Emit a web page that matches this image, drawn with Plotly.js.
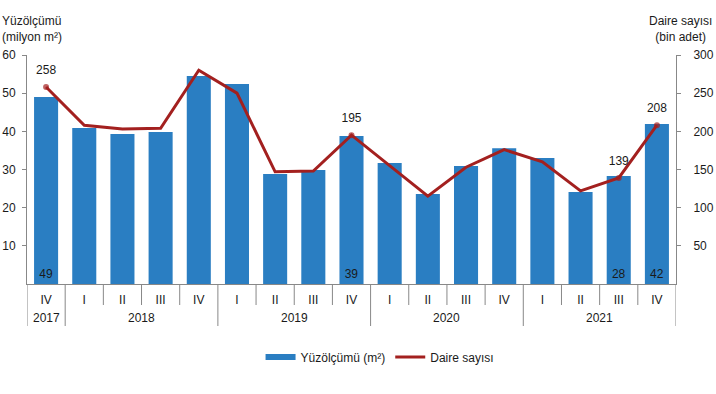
<!DOCTYPE html>
<html><head><meta charset="utf-8">
<script src="https://cdn.plot.ly/plotly-3.0.1.min.js"></script>
<style>html,body{margin:0;padding:0;background:#fff}#chart{width:716px;height:394px}</style>
</head><body><div id="chart"></div>
<script>
const years = ["2017","2018","2018","2018","2018","2019","2019","2019","2019","2020","2020","2020","2020","2021","2021","2021","2021"];
const quarters = ["IV","I","II","III","IV","I","II","III","IV","I","II","III","IV","I","II","III","IV"];
const area = [49,40.9,39.3,39.8,54.5,52.4,28.8,29.9,38.8,31.7,23.6,30.9,35.6,33.0,24.1,28.3,41.9];
const areaLabels = ["49","","","","","","","","39","","","","","","","28","42"];
const dwellings = [258,208,203,204,280,250,147,148,195,155,115,153,176,160,122,139,208];
const dwellingLabels = ["258","","","","","","","","195","","","","","","","139","208"];

const font = {family:"Liberation Sans, Arial, sans-serif", size:12, color:"#1a1a1a"};
const keys = years.map((y, i) => y + " " + quarters[i]);
const barColor = "#2A7EC2", lineColor = "#A3201F", axisColor = "#888";

// plot area in pixels: left 27, right 676, top 55, bottom 284
const plotH = 229;
const py = (px) => (284 - px) / plotH;

// year groups
const groups = [];
years.forEach((y, i) => {
  if (!groups.length || groups[groups.length - 1].year !== y) groups.push({year: y, start: i, end: i});
  else groups[groups.length - 1].end = i;
});

const shapes = [];
const isGroupStart = new Set(groups.map(g => g.start));
for (let b = 0; b <= keys.length; b++) {
  const major = b === 0 || b === keys.length || isGroupStart.has(b);
  shapes.push({type:"line", xref:"x", yref:"paper", x0:b - 0.5, x1:b - 0.5,
               y0:0, y1:major ? py(326) : py(305), line:{color:axisColor, width:1}});
}

const annotations = groups.map(g => ({
  xref:"x", yref:"paper", x:(g.start + g.end) / 2, y:py(318), yanchor:"middle", xanchor:"center",
  text:g.year, showarrow:false, font:font
}));
annotations.push(
  {xref:"paper", yref:"paper", x:-27/649, y:py(12), xanchor:"left", yanchor:"top", align:"left",
   text:"Yüzölçümü<br>(milyon m²)", showarrow:false, font:font},
  {xref:"paper", yref:"paper", x:(714-27)/649, y:py(12), xanchor:"right", yanchor:"top", align:"center",
   text:"Daire sayısı<br>(bin adet)", showarrow:false, font:font}
);

const traces = [
  {type:"bar", x:keys, y:area, name:"Yüzölçümü (m²)", marker:{color:barColor}, showlegend:false,
   text:areaLabels, textposition:"inside", insidetextanchor:"start",
   textfont:{family:font.family,size:12,color:"#1a1a1a"}, hoverinfo:"none", cliponaxis:false},
  {type:"scatter", mode:"lines", x:[keys[0]], y:[null], name:"Yüzölçümü (m²)",
   line:{color:barColor, width:6}, hoverinfo:"none"},
  {type:"scatter", mode:"lines+markers", x:keys, y:dwellings, yaxis:"y2", name:"Daire sayısı",
   line:{color:lineColor, width:3},
   marker:{color:lineColor, size:dwellingLabels.map(t => t ? 6 : 0), line:{width:0}},
   hoverinfo:"none", cliponaxis:false},
  {type:"scatter", mode:"markers+text", x:keys, y:dwellings, yaxis:"y2", showlegend:false,
   marker:{color:"rgba(0,0,0,0)", size:15, line:{width:0}},
   text:dwellingLabels, textposition:"top center",
   textfont:{family:font.family,size:12,color:"#1a1a1a"}, hoverinfo:"none", cliponaxis:false}
];

const layout = {
  width:716, height:394,
  margin:{l:27, r:40, t:55, b:110, autoexpand:false},
  font:font,
  paper_bgcolor:"#fff", plot_bgcolor:"#fff",
  bargap:0.37,
  showlegend:true,
  legend:{orientation:"h", x:0.544, xanchor:"center", y:py(357), yanchor:"middle", font:font},
  xaxis:{type:"category", automargin:false, showline:true, linecolor:axisColor, linewidth:1,
         tickvals:keys, ticktext:quarters, ticks:"", ticklabelstandoff:5,
         showgrid:false, tickfont:font, range:[-0.5, keys.length - 0.5]},
  yaxis:{range:[0,60], automargin:false, tickvals:[10,20,30,40,50,60], showgrid:false, zeroline:false,
         showline:true, linecolor:axisColor, ticks:"outside", ticklen:4, tickcolor:axisColor,
         ticklabelstandoff:4, tickfont:font},
  yaxis2:{range:[0,300], automargin:false, overlaying:"y", side:"right", tickvals:[50,100,150,200,250,300],
          showgrid:false, zeroline:false, showline:true, linecolor:axisColor,
          ticks:"outside", ticklen:4, tickcolor:axisColor, ticklabelstandoff:10, tickfont:font},
  shapes:shapes,
  annotations:annotations
};
Plotly.newPlot("chart", traces, layout, {staticPlot:true});
</script></body></html>
